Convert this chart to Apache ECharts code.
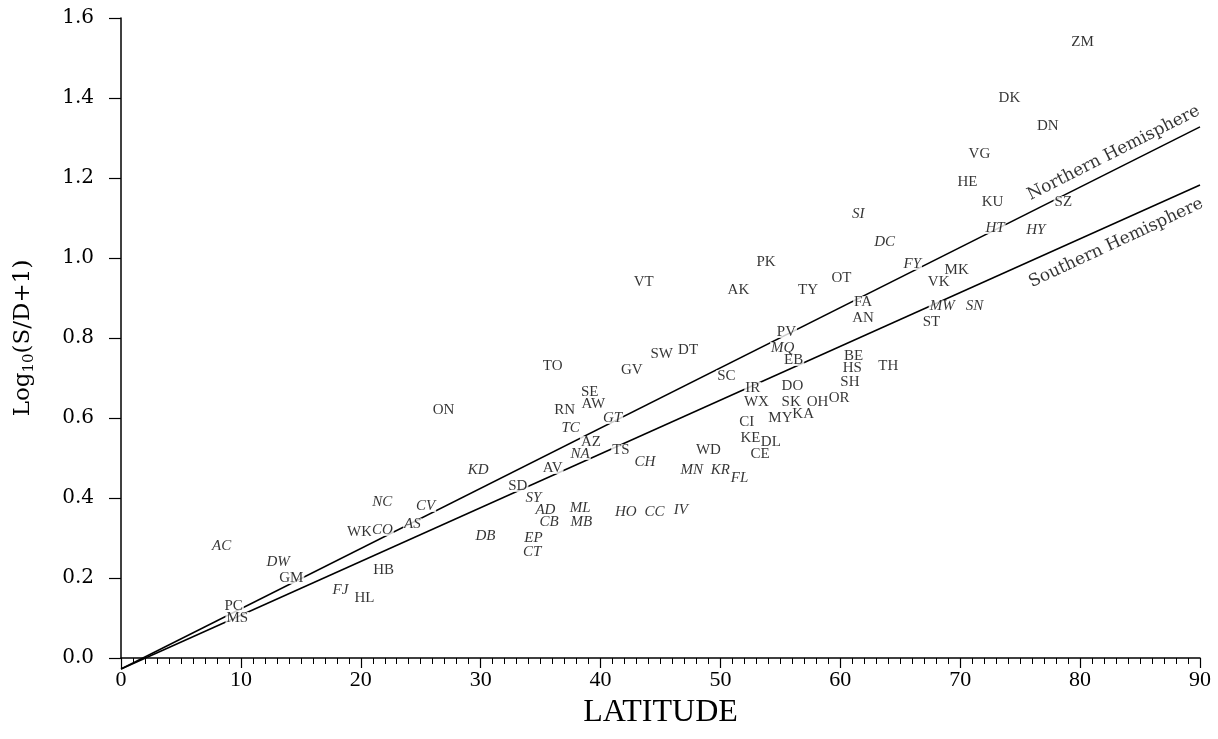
<!DOCTYPE html>
<html>
<head>
<meta charset="utf-8">
<script src="https://cdn.jsdelivr.net/npm/echarts@6/dist/echarts.min.js"></script>
<style>
html, body { margin: 0; padding: 0; background: #fff; }
#chart { width: 1218px; height: 739px; }
</style>
</head>
<body>
<div id="chart"></div>
<script>
// sites plotted with upright codes
var northCodes = ["ZM", "DK", "DN", "VG", "HE", "KU", "SZ", "OT", "PK", "AK", "TY", "VT", "VK", "MK",
  "FA", "AN", "ST", "PV", "EB", "BE", "HS", "SH", "TH", "DT", "SW", "GV", "TO", "SC", "IR", "WX",
  "DO", "SK", "OH", "OR", "KA", "MY", "CI", "KE", "DL", "CE", "WD", "SE", "AW", "RN", "AZ", "TS",
  "AV", "SD", "ON", "WK", "HB", "HL", "GM", "PC", "MS"];
var northLat = [80.2, 74.1, 77.3, 71.6, 70.6, 72.7, 78.6, 60.1, 53.8, 51.5, 57.3, 43.6, 68.2, 69.7,
  61.9, 61.9, 67.6, 55.5, 56.1, 61.1, 61.0, 60.8, 64.0, 47.3, 45.1, 42.6, 36.0, 50.5, 52.7, 53.0,
  56.0, 55.9, 58.1, 59.9, 56.9, 55.0, 52.2, 52.5, 54.2, 53.3, 49.0, 39.1, 39.4, 37.0, 39.2, 41.7,
  36.0, 33.1, 26.9, 19.9, 21.9, 20.3, 14.2, 9.4, 9.7];
var northLog = [1.54, 1.40, 1.33, 1.26, 1.19, 1.14, 1.14, 0.95, 0.99, 0.92, 0.92, 0.94, 0.94, 0.97,
  0.89, 0.85, 0.84, 0.815, 0.745, 0.755, 0.725, 0.69, 0.73, 0.77, 0.76, 0.72, 0.73, 0.705, 0.675, 0.64,
  0.68, 0.64, 0.64, 0.65, 0.61, 0.60, 0.59, 0.55, 0.54, 0.51, 0.52, 0.665, 0.635, 0.62, 0.54, 0.52,
  0.475, 0.43, 0.62, 0.315, 0.22, 0.15, 0.20, 0.13, 0.10];

// sites plotted with italic codes
var southCodes = ["SI", "DC", "FY", "HT", "HY", "MW", "SN", "MQ", "GT", "TC", "NA", "CH", "MN", "KR",
  "FL", "KD", "SY", "AD", "ML", "CB", "MB", "DB", "EP", "CT", "HO", "CC", "IV", "NC", "CV", "CO",
  "AS", "AC", "DW", "FJ"];
var southLat = [61.5, 63.7, 66.0, 72.9, 76.3, 68.5, 71.2, 55.2, 41.0, 37.5, 38.3, 43.7, 47.6, 50.0,
  51.6, 29.8, 34.4, 35.4, 38.3, 35.7, 38.4, 30.4, 34.4, 34.3, 42.1, 44.5, 46.7, 21.8, 25.4, 21.8,
  24.3, 8.4, 13.1, 18.3];
var southLog = [1.11, 1.04, 0.985, 1.075, 1.07, 0.88, 0.88, 0.775, 0.60, 0.575, 0.51, 0.49, 0.47, 0.47,
  0.45, 0.47, 0.40, 0.37, 0.375, 0.34, 0.34, 0.305, 0.30, 0.265, 0.365, 0.365, 0.37, 0.39, 0.38, 0.32,
  0.335, 0.28, 0.24, 0.17];

// regression lines
var fitLat = [0, 90];
var northFit = [-0.0275, 1.328];
var southFit = [-0.0275, 1.1825];

// line captions
var hemiNames = ["Northern Hemisphere", "Southern Hemisphere"];
var hemiLat = [82.8, 83.0];
var hemiLog = [1.2625, 1.0375];
var hemiAngle = [26.8, 25.0];

var toPoints = function (codes, lat, val) {
  var out = [];
  for (var i = 0; i < codes.length; i++) {
    out.push({ name: codes[i], value: [lat[i], val[i]] });
  }
  return out;
};

var codeLabel = function (italic) {
  return {
    show: true,
    position: "inside",
    formatter: "{b}",
    color: "#000",
    fontFamily: "Liberation Serif",
    fontStyle: italic ? "italic" : "normal",
    fontSize: 15,
    lineHeight: 12,
    backgroundColor: "#fff",
    padding: [0, 1],
  };
};

var myChart = echarts.init(document.getElementById("chart"));

var option = {
  animation: false,
  grid: {
    left: 121,
    right: 18,
    top: 18,
    bottom: 81,
  },
  xAxis: {
    type: "value",
    min: 0,
    max: 90,
    interval: 10,
    name: "LATITUDE",
    nameLocation: "middle",
    nameGap: 39,
    nameTextStyle: {
      fontFamily: "Liberation Serif",
      fontSize: 32,
      color: "#000",
    },
    axisLine: { lineStyle: { color: "#000", width: 1.5 } },
    axisTick: { length: 10, lineStyle: { color: "#000", width: 1.2 } },
    minorTick: { show: true, splitNumber: 10, length: 6, lineStyle: { color: "#000", width: 1 } },
    axisLabel: {
      margin: 11,
      fontFamily: "Liberation Serif",
      fontSize: 22,
      color: "#000",
    },
    splitLine: { show: false },
  },
  yAxis: {
    type: "value",
    min: 0,
    max: 1.6,
    interval: 0.2,
    name: "{a|Log}{s|10}{a|(S/D+1)}",
    nameLocation: "middle",
    nameGap: 84,
    nameTextStyle: {
      rich: {
        a: { fontFamily: "DejaVu Serif", fontSize: 23, color: "#000" },
        s: { fontFamily: "DejaVu Serif", fontSize: 15, color: "#000", padding: [12, 0, 0, 0] },
      },
    },
    axisLine: { show: true, lineStyle: { color: "#000", width: 1.5 } },
    axisTick: { show: true, length: 12, lineStyle: { color: "#000", width: 1.2 } },
    axisLabel: {
      margin: 27,
      fontFamily: "DejaVu Serif",
      fontSize: 20,
      color: "#000",
      formatter: function (v) {
        return v.toFixed(1);
      },
    },
    splitLine: { show: false },
  },
  series: [
    {
      name: "Northern fit",
      type: "line",
      clip: false,
      symbol: "none",
      z: 2,
      lineStyle: { color: "#000", width: 1.5 },
      data: [[fitLat[0], northFit[0]], [fitLat[1], northFit[1]]],
    },
    {
      name: "Southern fit",
      type: "line",
      clip: false,
      symbol: "none",
      z: 2,
      lineStyle: { color: "#000", width: 1.5 },
      data: [[fitLat[0], southFit[0]], [fitLat[1], southFit[1]]],
    },
    {
      name: "Northern sites",
      type: "scatter",
      symbolSize: 1,
      z: 5,
      itemStyle: { color: "rgba(0,0,0,0)" },
      label: codeLabel(false),
      data: toPoints(northCodes, northLat, northLog),
    },
    {
      name: "Southern sites",
      type: "scatter",
      symbolSize: 1,
      z: 5,
      itemStyle: { color: "rgba(0,0,0,0)" },
      label: codeLabel(true),
      data: toPoints(southCodes, southLat, southLog),
    },
    {
      name: "captions",
      type: "scatter",
      symbolSize: 1,
      z: 6,
      itemStyle: { color: "rgba(0,0,0,0)" },
      label: {
        show: true,
        position: "inside",
        formatter: "{b}",
        fontFamily: "DejaVu Serif",
        fontSize: 17,
        color: "#000",
        backgroundColor: "#fff",
        padding: [0, 4],
      },
      data: hemiNames.map(function (n, i) {
        return { name: n, value: [hemiLat[i], hemiLog[i]], label: { rotate: hemiAngle[i] } };
      }),
    },
  ],
};
myChart.setOption(option);
</script>
</body>
</html>
